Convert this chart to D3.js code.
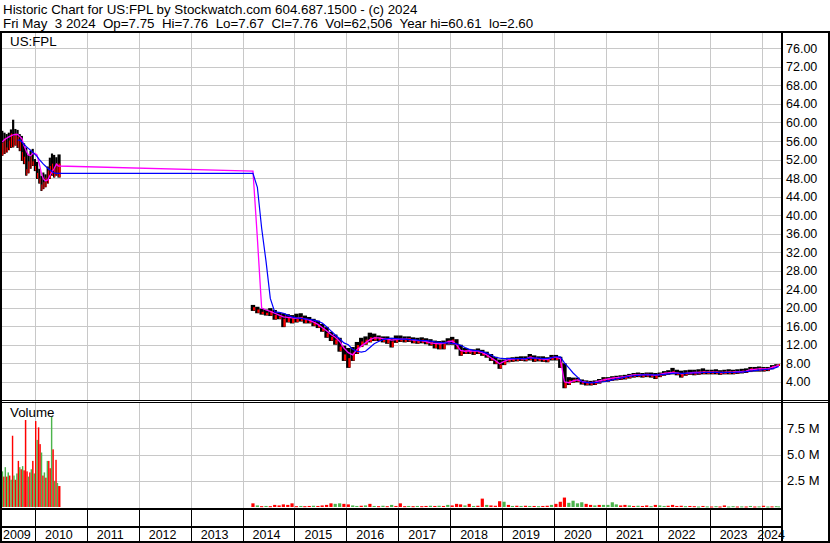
<!DOCTYPE html>
<html><head><meta charset="utf-8">
<script src="https://cdn.jsdelivr.net/npm/d3@7/dist/d3.min.js"></script>
<style>
html,body{margin:0;padding:0;background:#fff;}
svg{display:block;font-family:"Liberation Sans",Arial,sans-serif;}
</style></head><body>
<svg id="chart" width="830" height="543"></svg>
<script>
// ---------------- DATA ----------------
const titleLine1 = "Historic Chart for US:FPL by Stockwatch.com 604.687.1500 - (c) 2024";
const titleLine2 = "Fri May  3 2024  Op=7.75  Hi=7.76  Lo=7.67  Cl=7.76  Vol=62,506  Year hi=60.61  lo=2.60";
const symbolLabel = "US:FPL";
const volumeLabel = "Volume";
const yearLabels = ["2009","2010","2011","2012","2013","2014","2015","2016","2017","2018","2019","2020","2021","2022","2023","2024"];
const priceTicks = [4,8,12,16,20,24,28,32,36,40,44,48,52,56,60,64,68,72,76];
const volumeTicks = [2.5,5.0,7.5]; // millions

// price periods 2009-2010 (semi-monthly)
const priceDates0910 = ["2009-05-15","2009-06-01","2009-06-15","2009-07-01","2009-07-15","2009-08-01","2009-08-15","2009-09-01","2009-09-15","2009-10-01","2009-10-15","2009-11-01","2009-11-15","2009-12-01","2009-12-15","2010-01-01","2010-01-15","2010-02-01","2010-02-15","2010-03-01","2010-03-15","2010-04-01","2010-04-15","2010-05-01","2010-05-15","2010-06-01","2010-06-15"];
// monthly periods 2014-2024
const monthDates = [
"2014-03-15","2014-04-15","2014-05-15","2014-06-15","2014-07-15","2014-08-15","2014-09-15","2014-10-15","2014-11-15","2014-12-15",
"2015-01-15","2015-02-15","2015-03-15","2015-04-15","2015-05-15","2015-06-15","2015-07-15","2015-08-15","2015-09-15","2015-10-15","2015-11-15","2015-12-15",
"2016-01-15","2016-02-15","2016-03-15","2016-04-15","2016-05-15","2016-06-15","2016-07-15","2016-08-15","2016-09-15","2016-10-15","2016-11-15","2016-12-15",
"2017-01-15","2017-02-15","2017-03-15","2017-04-15","2017-05-15","2017-06-15","2017-07-15","2017-08-15","2017-09-15","2017-10-15","2017-11-15","2017-12-15",
"2018-01-15","2018-02-15","2018-03-15","2018-04-15","2018-05-15","2018-06-15","2018-07-15","2018-08-15","2018-09-15","2018-10-15","2018-11-15","2018-12-15",
"2019-01-15","2019-02-15","2019-03-15","2019-04-15","2019-05-15","2019-06-15","2019-07-15","2019-08-15","2019-09-15","2019-10-15","2019-11-15","2019-12-15",
"2020-01-15","2020-02-15","2020-03-15","2020-04-15","2020-05-15","2020-06-15","2020-07-15","2020-08-15","2020-09-15","2020-10-15","2020-11-15","2020-12-15",
"2021-01-15","2021-02-15","2021-03-15","2021-04-15","2021-05-15","2021-06-15","2021-07-15","2021-08-15","2021-09-15","2021-10-15","2021-11-15","2021-12-15",
"2022-01-15","2022-02-15","2022-03-15","2022-04-15","2022-05-15","2022-06-15","2022-07-15","2022-08-15","2022-09-15","2022-10-15","2022-11-15","2022-12-15",
"2023-01-15","2023-02-15","2023-03-15","2023-04-15","2023-05-15","2023-06-15","2023-07-15","2023-08-15","2023-09-15","2023-10-15","2023-11-15","2023-12-15",
"2024-01-15","2024-02-15","2024-03-15","2024-04-15","2024-05-02"];

const barHigh = [
58.2,57.8,57.5,57.8,58.5,60.6,58.6,58.4,57.5,57.1,55.5,54.6,53.0,53.9,54.3,52.1,51.5,50.0,48.5,49.2,48.8,50.5,52.4,53.3,53.0,52.5,53.1,
20.6,20.2,19.8,19.6,19.9,19.5,19.0,18.8,18.6,18.4,
18.7,18.8,18.3,18.0,17.6,17.2,16.5,15.8,14.8,14.2,13.5,11.8,
11.3,11.5,12.6,13.5,13.8,14.6,14.4,14.0,13.8,13.8,13.5,14.0,
14.0,13.8,13.8,13.6,13.5,13.6,13.4,13.2,12.9,12.8,12.9,13.4,
13.7,13.2,12.0,11.3,11.1,11.0,11.2,10.9,10.5,10.0,9.4,8.8,
8.8,9.2,9.3,9.4,9.5,9.5,10.0,9.7,9.5,9.5,9.3,9.8,
9.8,9.4,8.0,5.0,4.9,4.9,4.5,4.3,4.2,4.3,4.6,5.0,
5.0,5.2,5.3,5.4,5.5,5.7,5.9,6.0,5.9,6.0,6.0,5.9,
6.0,6.3,6.5,7.0,6.6,6.4,6.5,6.6,6.6,6.7,6.9,6.6,
6.6,6.7,6.5,6.6,6.7,6.6,6.7,6.8,6.9,7.2,7.2,7.3,
7.2,7.2,7.6,7.8,7.76];
const barLow = [
52.8,53.2,53.5,54.0,54.5,54.6,55.0,54.5,53.8,51.7,51.0,48.5,49.0,50.0,50.6,49.5,47.8,46.8,45.2,45.6,46.0,46.8,47.8,48.5,48.1,48.5,48.1,
19.3,18.8,18.5,18.3,18.2,17.4,17.5,15.8,16.8,16.6,
16.8,17.0,16.6,16.6,16.0,15.6,14.8,13.5,12.8,12.0,10.5,8.5,
7.0,8.5,10.0,11.5,12.0,12.5,12.8,12.8,12.5,12.2,11.4,12.4,
12.6,12.5,12.6,12.3,12.2,12.3,12.1,11.8,11.2,11.0,11.0,12.0,
12.0,11.0,9.6,10.0,10.0,9.8,10.0,9.6,9.2,8.5,7.8,6.8,
7.6,8.2,8.3,8.4,8.5,8.4,8.6,8.3,8.4,8.3,8.2,8.6,
8.6,7.0,2.6,3.3,3.8,3.9,3.4,3.2,3.2,3.3,3.6,4.0,
4.0,4.2,4.3,4.4,4.5,4.7,4.9,5.0,4.9,5.0,4.9,4.6,
5.0,5.3,5.5,5.6,5.4,4.9,5.3,5.5,5.4,5.5,5.6,5.6,
5.6,5.6,5.5,5.6,5.6,5.6,5.7,5.8,5.9,6.1,6.2,6.2,
6.2,6.3,6.7,7.2,7.67];
const barClose = [
55.5,56.5,54.5,56.0,57.5,57.0,57.5,56.8,56.0,53.5,52.5,49.8,51.5,52.5,51.5,50.5,49.0,47.8,46.5,47.0,48.0,49.5,50.5,51.0,50.0,51.0,51.0,
20.0,19.5,19.0,18.8,19.2,18.3,18.0,17.5,17.8,17.6,
17.8,17.9,17.4,17.2,16.8,16.2,15.4,14.4,13.6,13.0,11.5,9.8,
9.0,10.2,11.8,12.6,13.0,13.5,13.6,13.4,13.2,13.0,12.6,13.3,
13.2,13.1,13.3,13.0,12.8,13.0,12.7,12.4,12.3,12.2,12.3,12.8,
13.0,12.0,10.5,10.7,10.6,10.5,10.6,10.2,9.6,9.0,8.4,7.6,
8.4,8.8,8.9,9.0,9.0,8.9,9.4,9.0,9.0,8.8,8.7,9.3,
9.2,8.0,3.8,4.2,4.4,4.4,3.9,3.7,3.6,3.8,4.2,4.6,
4.6,4.8,4.9,5.0,5.1,5.3,5.5,5.6,5.4,5.6,5.5,5.3,
5.6,5.9,6.0,6.2,5.9,5.6,5.8,6.0,6.0,6.1,6.2,6.1,
6.1,6.1,6.0,6.1,6.1,6.2,6.2,6.3,6.4,6.8,6.7,6.9,
6.8,6.9,7.3,7.6,7.76];
// short moving average (magenta)
const maFast = [
55.8,56.3,56.6,56.9,57.1,57.3,57.4,57.4,57.0,56.5,55.0,53.8,53.0,52.8,53.3,53.3,53.0,51.0,49.0,47.8,47.4,47.6,48.5,49.3,50.0,51.0,50.6,
49.5,35.0,19.9,19.5,19.2,18.8,18.4,18.0,17.9,17.8,
17.7,17.8,17.6,17.3,16.9,16.4,15.7,15.0,14.2,13.6,12.7,11.3,
10.3,9.8,10.9,11.7,12.4,13.1,13.5,13.5,13.3,13.2,13.0,13.1,
13.2,13.2,13.2,13.0,12.9,12.9,12.7,12.4,12.3,12.2,12.3,12.6,
12.8,12.0,10.8,10.6,10.7,10.6,10.6,10.3,9.8,9.2,8.6,7.9,
8.4,8.8,8.9,9.0,9.0,8.9,9.3,9.1,9.0,8.9,8.8,9.2,
9.3,9.0,4.0,3.8,4.2,4.4,4.1,3.9,3.8,3.9,4.2,4.4,
4.6,4.8,4.9,5.0,5.1,5.3,5.5,5.5,5.5,5.6,5.5,5.4,
5.6,5.8,5.9,6.0,5.9,5.7,5.8,5.9,6.0,6.0,6.1,6.1,
6.1,6.1,6.0,6.0,6.1,6.1,6.2,6.2,6.3,6.6,6.7,6.8,
6.8,6.8,7.1,7.4,7.6];
// long moving average (blue)
const maSlow = [
null,null,null,null,null,null,null,56.2,56.2,55.8,55.3,54.8,54.4,54.0,53.6,53.1,52.7,52.0,51.5,51.0,50.6,50.1,49.8,49.4,49.1,49.0,49.0,
49.0,46.0,37.2,30.0,22.0,19.1,19.0,18.8,18.4,18.0,
17.8,17.7,17.6,17.5,17.3,17.1,16.7,15.9,15.0,14.1,13.3,12.4,
12.0,11.0,10.6,10.4,10.6,11.4,12.2,12.7,13.1,13.3,13.4,13.3,
13.2,13.2,13.1,13.1,13.0,12.9,12.9,12.8,12.6,12.5,12.4,12.4,
12.3,12.2,11.9,11.4,11.0,10.8,10.7,10.5,10.2,9.8,9.3,9.1,
9.0,9.0,9.0,9.0,9.0,9.0,9.1,9.1,9.1,9.0,9.0,9.2,
9.4,9.4,8.1,7.0,5.9,5.0,4.0,3.8,3.8,3.8,3.9,4.0,
4.2,4.4,4.6,4.8,5.0,5.2,5.3,5.4,5.5,5.5,5.5,5.5,
5.5,5.6,5.7,5.8,5.9,5.8,5.8,5.9,5.9,5.9,6.0,6.0,
6.0,6.0,6.0,6.0,6.0,6.0,6.1,6.1,6.2,6.3,6.4,6.5,
6.6,6.7,6.8,7.1,7.3];

// volume (millions)
const volDates0910 = ["2009-05-07","2009-05-17","2009-05-27","2009-06-06","2009-06-16","2009-06-27","2009-07-07","2009-07-17","2009-07-27","2009-08-06","2009-08-16","2009-08-27","2009-09-06","2009-09-16","2009-09-26","2009-10-06","2009-10-16","2009-10-27","2009-11-06","2009-11-16","2009-11-26","2009-12-06","2009-12-17","2009-12-27","2010-01-06","2010-01-16","2010-01-26","2010-02-06","2010-02-16","2010-02-26","2010-03-08","2010-03-19","2010-03-29","2010-04-08","2010-04-18","2010-04-28","2010-05-08","2010-05-19","2010-05-29","2010-06-08","2010-06-18"];
const volValues = [
4.8,3.4,2.9,3.8,2.9,3.3,3.0,2.6,6.8,3.0,2.6,3.2,4.4,3.8,3.6,3.9,3.5,8.3,3.4,2.9,3.3,3.6,4.4,3.2,8.2,6.4,7.6,6.0,5.2,3.0,3.3,2.8,4.4,4.4,3.7,8.6,5.5,2.5,4.5,2.3,2.0,
0.35,0.15,0.08,0.10,0.08,0.20,0.15,0.25,0.20,0.35,
0.08,0.10,0.08,0.10,0.12,0.10,0.15,0.20,0.35,0.30,0.35,0.30,
0.25,0.15,0.10,0.12,0.15,0.30,0.10,0.08,0.12,0.08,0.20,0.10,
0.35,0.08,0.10,0.08,0.10,0.08,0.10,0.12,0.10,0.12,0.10,0.20,
0.15,0.30,0.25,0.15,0.30,0.10,0.12,0.80,0.20,0.15,0.12,0.55,
0.50,0.20,0.10,0.12,0.10,0.12,0.10,0.10,0.08,0.10,0.12,0.20,
0.30,0.50,0.90,0.40,0.60,0.35,0.45,0.30,0.20,0.15,0.20,0.20,
0.20,0.45,0.25,0.15,0.20,0.15,0.10,0.12,0.10,0.15,0.08,0.20,
0.15,0.10,0.12,0.20,0.10,0.12,0.08,0.10,0.08,0.05,0.10,0.06,
0.05,0.08,0.05,0.15,0.05,0.08,0.05,0.06,0.05,0.10,0.05,0.06,
0.12,0.05,0.06,0.08,0.06];
const volUp = [
0,1,0,1,0,1,0,1,0,1,0,1,0,1,0,1,0,0,0,1,0,1,0,1,0,1,0,0,1,0,1,0,1,0,0,1,0,1,0,1,0,
0,1,0,1,0,0,0,0,0,0,
0,1,0,0,1,0,0,0,0,1,1,0,
0,1,1,0,1,0,1,0,1,0,1,0,
0,0,1,0,1,0,0,1,0,1,0,1,
0,0,0,1,0,1,0,0,1,0,0,0,
1,0,1,0,1,0,1,0,1,0,0,1,
0,0,0,1,1,1,1,0,0,1,0,1,
1,1,1,0,0,1,0,1,0,0,1,0,
1,1,0,0,0,0,1,0,0,1,0,1,
0,1,0,0,1,1,0,1,0,1,0,1,
0,1,0,1,1];

// ---------------- CHART ----------------
const W = 830, H = 543;
const L = 2, R = 781;              // plot horizontal extent
const pTop = 33, pBot = 400;       // price panel
const vTop = 403, vBot = 508;      // volume panel
const parse = d3.utcParse("%Y-%m-%d");
const FONT = "'Liberation Sans', Arial, sans-serif";

const svg = d3.select("#chart");
svg.append("rect").attr("width", W).attr("height", H).attr("fill", "#fff");

const x = d3.scaleUtc().domain([new Date(Date.UTC(2010,0,1)), new Date(Date.UTC(2024,0,1))]).range([35, 761.5]);
const yP = d3.scaleLinear().domain([0, 76]).range([400.3, 48.4]);
const yV = d3.scaleLinear().domain([0, 10]).range([507, 402.2]);

const priceDates = priceDates0910.concat(monthDates);
const bars = priceDates.map((d, i) => ({date: parse(d), hi: barHigh[i], lo: barLow[i], cl: barClose[i], f: maFast[i], s: maSlow[i]}));
const volDates = volDates0910.concat(monthDates);
const vols = volDates.map((d, i) => ({date: parse(d), v: volValues[i], up: volUp[i]}));

const years = yearLabels.map(y => new Date(Date.UTC(+y, 0, 1)));
const yearBounds = years.slice(1); // 2010..2024 boundaries

// Title
svg.append("text").attr("x", 3).attr("y", 14).attr("font-size", 13.33).attr("font-family", FONT)
  .attr("fill", "#000").text(titleLine1);
svg.append("text").attr("x", 3).attr("y", 28).attr("font-size", 13.33).attr("font-family", FONT)
  .attr("fill", "#000").style("white-space", "pre").text(titleLine2);

const crisp = v => Math.round(v) + 0.5;

// Grid
const grid = svg.append("g").attr("stroke", "#c8c8c8").attr("stroke-width", 1).attr("shape-rendering", "crispEdges");
grid.selectAll(".hp").data(priceTicks).join("line")
  .attr("x1", L).attr("x2", R).attr("y1", d => crisp(yP(d))).attr("y2", d => crisp(yP(d)));
grid.selectAll(".vp").data(yearBounds).join("line")
  .attr("x1", d => crisp(x(d))).attr("x2", d => crisp(x(d))).attr("y1", pTop).attr("y2", pBot);
grid.selectAll(".hv").data(volumeTicks).join("line")
  .attr("x1", L).attr("x2", R).attr("y1", d => crisp(yV(d))).attr("y2", d => crisp(yV(d)));
grid.selectAll(".vv").data(yearBounds).join("line")
  .attr("x1", d => crisp(x(d))).attr("x2", d => crisp(x(d))).attr("y1", vTop).attr("y2", vBot);

// clip paths
const defs = svg.append("defs");
defs.append("clipPath").attr("id", "clipP").append("rect").attr("x", L).attr("y", pTop).attr("width", R - L).attr("height", pBot - pTop);
defs.append("clipPath").attr("id", "clipV").append("rect").attr("x", L).attr("y", vTop).attr("width", R - L).attr("height", vBot - vTop);

// bar extents from neighbouring dates
function extents(arr, cap) {
  return arr.map((d, i) => {
    const cx = x(d.date);
    const lh = i > 0 ? Math.min(cap, (cx - x(arr[i-1].date)) / 2) : 1.2;
    const rh = i < arr.length - 1 ? Math.min(cap, (x(arr[i+1].date) - cx) / 2) : 1.2;
    return {x0: cx - lh, x1: cx + rh, cx};
  });
}
const bx = extents(bars, 2.2);

const gP = svg.append("g").attr("clip-path", "url(#clipP)");
// high-low bars
gP.append("g").selectAll("rect").data(bars).join("rect")
  .attr("x", (d, i) => bx[i].x0).attr("width", (d, i) => Math.max(1, bx[i].x1 - bx[i].x0))
  .attr("y", d => yP(d.hi)).attr("height", d => Math.max(1.5, yP(d.lo) - yP(d.hi)))
  .attr("fill", "#000");
// red close-to-low marks
gP.append("g").selectAll("rect").data(bars).join("rect")
  .attr("x", (d, i) => bx[i].cx).attr("width", (d, i) => Math.max(1, bx[i].x1 - bx[i].cx))
  .attr("y", d => yP(d.cl) - 0.5).attr("height", d => Math.max(2, yP(d.lo) - yP(d.cl)))
  .attr("fill", "#ff0000");

const lineFast = d3.line().defined(d => d.f != null).x(d => x(d.date)).y(d => yP(d.f));
const lineSlow = d3.line().defined(d => d.s != null).x(d => x(d.date)).y(d => yP(d.s));
gP.append("path").datum(bars).attr("d", lineFast).attr("fill", "none").attr("stroke", "#ff00ff").attr("stroke-width", 1.3);
gP.append("path").datum(bars).attr("d", lineSlow).attr("fill", "none").attr("stroke", "#0000ff").attr("stroke-width", 1.2);

svg.append("text").attr("x", 10).attr("y", 46).attr("font-size", 13.33).attr("font-family", FONT).attr("fill", "#000").text(symbolLabel);

// Volume bars
const vx = extents(vols, 1.6);
const gV = svg.append("g").attr("clip-path", "url(#clipV)");
gV.selectAll("rect").data(vols).join("rect")
  .attr("x", (d, i) => vx[i].x0).attr("width", (d, i) => Math.max(1, vx[i].x1 - vx[i].x0))
  .attr("y", d => yV(d.v)).attr("height", d => Math.max(1, yV(0) - yV(d.v)))
  .attr("fill", d => d.up ? "#4cb44c" : "#ff0000");
svg.append("text").attr("x", 10).attr("y", 417).attr("font-size", 13.33).attr("font-family", FONT).attr("fill", "#000").text(volumeLabel);

// Axes (right side)
const axP = svg.append("g").attr("transform", "translate(786,0)")
  .call(d3.axisRight(yP).tickValues(priceTicks).tickSize(0).tickPadding(0).tickFormat(d3.format(".2f")));
axP.select(".domain").remove();
axP.selectAll("text").attr("font-size", 12.5).attr("font-family", FONT).attr("fill", "#000");
const axV = svg.append("g").attr("transform", "translate(787,0)")
  .call(d3.axisRight(yV).tickValues(volumeTicks).tickSize(0).tickPadding(0).tickFormat(d => d.toFixed(1) + " M"));
axV.select(".domain").remove();
axV.selectAll("text").attr("font-size", 13).attr("font-family", FONT).attr("fill", "#000");

// Frame lines
const frame = svg.append("g").attr("fill", "#000").attr("shape-rendering", "crispEdges");
frame.append("rect").attr("x", 0).attr("y", 31).attr("width", W).attr("height", 2);      // top
frame.append("rect").attr("x", 0).attr("y", 31).attr("width", 2).attr("height", H - 31); // left
frame.append("rect").attr("x", 781).attr("y", 31).attr("width", 2).attr("height", H - 31); // plot right
frame.append("rect").attr("x", 828).attr("y", 31).attr("width", 2).attr("height", H - 31); // outer right
frame.append("rect").attr("x", 0).attr("y", 400).attr("width", W).attr("height", 1);     // double separator
frame.append("rect").attr("x", 0).attr("y", 402).attr("width", W).attr("height", 1);
frame.append("rect").attr("x", 0).attr("y", 508).attr("width", 783).attr("height", 2);   // volume bottom
frame.append("rect").attr("x", 0).attr("y", 526).attr("width", 783).attr("height", 2);   // year band
frame.append("rect").attr("x", 0).attr("y", 541).attr("width", W).attr("height", 2);     // bottom

// Year dividers via a bottom axis
const axX = svg.append("g").attr("transform", "translate(0,510)")
  .call(d3.axisBottom(x).tickValues(yearBounds).tickSize(31).tickFormat(""));
axX.select(".domain").remove();
axX.selectAll("line").attr("stroke", "#000").attr("shape-rendering", "crispEdges");

// Year labels
svg.append("g").selectAll("text").data(yearLabels).join("text")
  .attr("x", (d, i) => i === 0 ? 3 : (i === yearLabels.length - 1 ? 785 : x(years[i]) + 10))
  .attr("text-anchor", (d, i) => i === yearLabels.length - 1 ? "end" : "start")
  .attr("y", 539).attr("font-size", 12.5).attr("font-family", FONT).attr("fill", "#000")
  .text(d => d);
</script>
</body></html>
